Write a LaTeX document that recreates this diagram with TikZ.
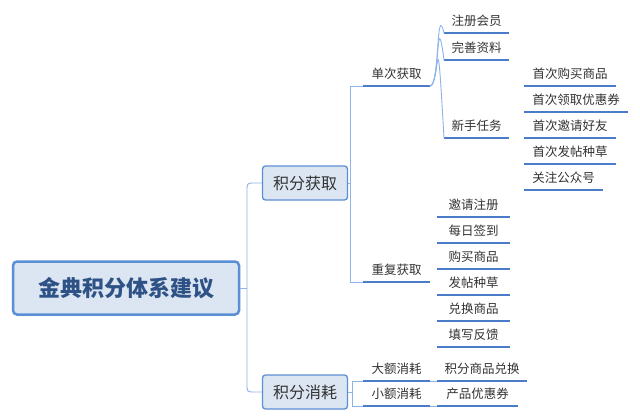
\documentclass[tikz,border=0pt]{standalone}
\usepackage{fontspec}
\setmainfont{Noto Sans CJK SC}
\definecolor{boxfill}{HTML}{DCE6F2}
\definecolor{boxline}{HTML}{5B8FD4}
\definecolor{conn}{HTML}{8DB3E8}
\definecolor{under}{HTML}{4A7CC9}
\definecolor{roottext}{HTML}{2F5286}
\tikzset{
  conline/.style={draw=conn, line width=0.9pt},
  uline/.style={draw=under, line width=1.8pt},
  leaftext/.style={font=\fontsize{12.5}{14}\selectfont, text=black!80, inner sep=0pt},
  mainbox/.style={draw=boxline, fill=boxfill, rounded corners=3pt, line width=1.3pt, font=\fontsize{16}{18}\selectfont, text=black!80, minimum width=85pt, minimum height=34pt},
}
\newcommand{\leafnode}[5]{% name x1 x2 y text
  \coordinate (#1-l) at (#2,#4);
  \coordinate (#1-r) at (#3,#4);
  \draw[uline] (#1-l) -- (#1-r);
  \node[leaftext] (#1) at ({(#2+#3)/2},#4-12) {#5};
}
\newcommand{\curve}[2]{\draw[conline] (#1) .. controls +(8,0) and +(-8,0) .. (#2);}
\begin{document}
\begin{tikzpicture}[x=1pt,y=-1pt]
\useasboundingbox[fill=white] (0,0) rectangle (640,420);
\node[draw=boxline, fill=boxfill, rounded corners=4pt, line width=2.5pt, minimum width=226pt, minimum height=53pt, font=\fontsize{22}{24}\selectfont\bfseries, text=roottext] (root) at (126,288) {金典积分体系建议};
\node[mainbox] (get) at (305,183) {积分获取};
\node[mainbox] (use) at (305,392) {积分消耗};
% root connectors
\coordinate (rj) at (247,288);
\draw[conline] (root.east) -- (rj);
\draw[conline] (rj) -- (247,191) .. controls (247,183) .. (255,183) -- (get.west);
\draw[conline] (rj) -- (247,384) .. controls (247,392) .. (255,392) -- (use.west);
% level 2
\leafnode{dc}{363}{430}{86}{单次获取}
\leafnode{cf}{363}{430}{282}{重复获取}
\leafnode{de}{363}{430}{381}{大额消耗}
\leafnode{xe}{363}{430}{406}{小额消耗}
\draw[conline] (get.east) -- (350,183);
\draw[conline] (350,183) -- (350,86) -- (dc-l);
\draw[conline] (350,183) -- (350,282) -- (cf-l);
\draw[conline] (use.east) -- (352,392);
\draw[conline] (352,392) -- (352,381) -- (de-l);
\draw[conline] (352,392) -- (352,406) -- (xe-l);
% 单次获取
\leafnode{zc}{444}{509}{33}{注册会员}
\leafnode{ws}{444}{509}{60}{完善资料}
\leafnode{xs}{444}{509}{138}{新手任务}
\foreach \n in {zc,ws,xs} {\draw[conline] (dc-r) .. controls (440,86) and (436,{0}) .. (\n-l);}
% 新手任务
\leafnode{a1}{524}{616}{86}{首次购买商品}
\leafnode{a2}{524}{628}{112}{首次领取优惠券}
\leafnode{a3}{524}{616}{138}{首次邀请好友}
\leafnode{a4}{524}{616}{164}{首次发帖种草}
\leafnode{a5}{524}{603}{190}{关注公众号}
% 重复获取
\leafnode{b1}{437}{510}{217}{邀请注册}
\leafnode{b2}{437}{510}{243}{每日签到}
\leafnode{b3}{437}{510}{269}{购买商品}
\leafnode{b4}{437}{510}{295}{发帖种草}
\leafnode{b5}{437}{510}{321}{兑换商品}
\leafnode{b6}{437}{510}{347}{填写反馈}
% 消耗
\leafnode{c1}{437}{527}{381}{积分商品兑换}
\leafnode{c2}{437}{518}{406}{产品优惠券}
\draw[conline] (de-r) -- (c1-l);
\draw[conline] (xe-r) -- (c2-l);
\end{tikzpicture}
\end{document}
